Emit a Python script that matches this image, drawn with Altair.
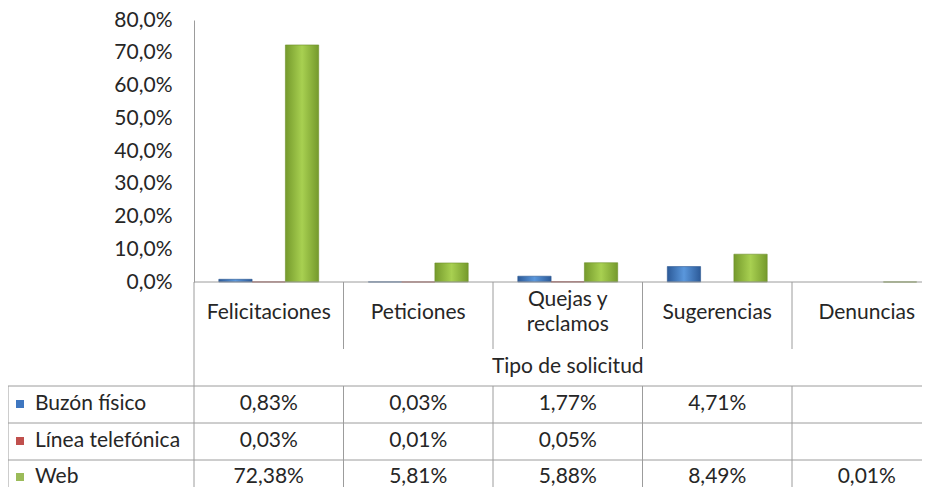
import altair as alt
import pandas as pd

# ---------------- data ----------------
categories = ["Felicitaciones", "Peticiones", "Quejas y reclamos", "Sugerencias", "Denuncias"]
category_labels = ["Felicitaciones", "Peticiones", "Quejas y\nreclamos", "Sugerencias", "Denuncias"]
series = ["Buzón físico", "Línea telefónica", "Web"]
buzon = [0.83, 0.03, 1.77, 4.71, None]
linea = [0.03, 0.01, 0.05, None, None]
web = [72.38, 5.81, 5.88, 8.49, 0.01]
y_ticks = [0, 10, 20, 30, 40, 50, 60, 70, 80]
axis_title = "Tipo de solicitud"

values_by_series = {"Buzón físico": buzon, "Línea telefónica": linea, "Web": web}

rows = []
for s in series:
    for c, v in zip(categories, values_by_series[s]):
        if v is not None:
            rows.append({"cat": c, "serie": s, "v": v, "frac": v / 100.0})
df = pd.DataFrame(rows)
cat_df = pd.DataFrame({"cat": categories, "label": category_labels})
one = pd.DataFrame({"a": [0]})

# ---------------- layout (pixels) ----------------
TOP = 5
W, H = 728, 479 - TOP
LEFT = 186
Y_TOP, Y_ZERO = 12 - TOP, 274 - TOP
FONT = "Lato"
FS = 21
TXT = "#262626"
LINE = "#9c9c9c"


def py(v):
    return v - TOP


x_scale = alt.Scale(domain=categories, range=[0, 747.5], paddingInner=0, paddingOuter=0)
xo_scale = alt.Scale(domain=series, paddingInner=0, paddingOuter=0.745)
y_scale = alt.Scale(domain=[0, 0.8], range=[Y_ZERO, Y_TOP], nice=False, zero=True)

X = alt.X("cat:N", scale=x_scale, axis=None, sort=categories)
Y = alt.Y(
    "frac:Q", scale=y_scale, title=None,
    axis=alt.Axis(
        values=[t / 100 for t in y_ticks],
        labelExpr="replace(format(datum.value*100, '.1f'), '.', ',') + '%'",
        ticks=False, grid=False, domainColor=LINE, domainWidth=1,
        labelFont=FONT, labelFontSize=FS, labelColor=TXT, labelPadding=22,
        labelBound=False, labelOverlap=False,
    ),
)

gradients = {
    "Buzón físico": ["#2c5a98", "#5a97dc", "#2c5a98"],
    "Línea telefónica": ["#9a3431", "#d4605c", "#9a3431"],
    "Web": ["#759a2c", "#a8d051", "#759a2c"],
}
strokes = {"Buzón físico": "#2a5590", "Línea telefónica": "#8c2f2c", "Web": "#6b8e28"}

layers = []

# bars
for s in series:
    g = gradients[s]
    grad = alt.Gradient(
        gradient="linear",
        stops=[alt.GradientStop(color=g[0], offset=0),
               alt.GradientStop(color=g[1], offset=0.5),
               alt.GradientStop(color=g[2], offset=1)],
        x1=0, x2=1, y1=0, y2=0,
    )
    bar = alt.Chart(df).transform_filter(alt.datum.serie == s).mark_bar(
        color=grad, stroke=strokes[s], strokeWidth=0.6
    ).encode(
        x=X,
        xOffset=alt.XOffset("serie:N", scale=xo_scale),
        y=Y,
    )
    layers.append(bar)


# lines
def hline(y, x1, x2):
    return alt.Chart(one).mark_rule(color=LINE, strokeWidth=1).encode(
        x=alt.value(x1), x2=alt.value(x2), y=alt.value(y))


def vline(x, y1, y2):
    return alt.Chart(one).mark_rule(color=LINE, strokeWidth=1).encode(
        x=alt.value(x), y=alt.value(y1), y2=alt.value(y2))


layers.append(hline(Y_ZERO, 0, W + 10))
for y in [378, 415, 452]:
    layers.append(hline(py(y), -LEFT, W + 10))
layers.append(vline(0, Y_ZERO, H))
layers.append(vline(-LEFT, py(378), H))

sep_df = pd.DataFrame({"cat": categories[1:]})
layers.append(alt.Chart(sep_df).mark_rule(color=LINE, strokeWidth=1).encode(
    x=alt.X("cat:N", scale=x_scale, axis=None, bandPosition=0),
    y=alt.value(Y_ZERO), y2=alt.value(py(341))))
layers.append(alt.Chart(sep_df).mark_rule(color=LINE, strokeWidth=1).encode(
    x=alt.X("cat:N", scale=x_scale, axis=None, bandPosition=0),
    y=alt.value(py(378)), y2=alt.value(H)))

# category labels (single-line and two-line)
layers.append(alt.Chart(cat_df).transform_filter(
    "indexof(datum.label, '\\n') < 0").mark_text(
    font=FONT, fontSize=FS, color=TXT, baseline="middle", align="center",
).encode(x=X, y=alt.value(py(305)), text="label:N"))
layers.append(alt.Chart(cat_df).transform_filter(
    "indexof(datum.label, '\\n') >= 0").mark_text(
    font=FONT, fontSize=FS, color=TXT, baseline="middle", align="center",
    lineBreak="\n", lineHeight=25,
).encode(x=X, y=alt.value(py(292)), text="label:N"))

# axis title
layers.append(alt.Chart(one).mark_text(
    font=FONT, fontSize=FS, color=TXT, baseline="middle", align="center",
).encode(x=alt.value(747.5 / 2), y=alt.value(py(359)), text=alt.value(axis_title)))

# table rows
row_y = {"Buzón físico": 396, "Línea telefónica": 433, "Web": 469}
sq_colors = {"Buzón físico": "#3f77c0", "Línea telefónica": "#c0504d", "Web": "#9bbb59"}
for s in series:
    yy = py(row_y[s])
    layers.append(alt.Chart(df).transform_filter(alt.datum.serie == s).transform_calculate(
        txt="replace(format(datum.v, '.2f'), '.', ',') + '%'"
    ).mark_text(font=FONT, fontSize=FS, color=TXT, baseline="middle", align="center").encode(
        x=X, y=alt.value(yy), text="txt:N"))
    layers.append(alt.Chart(one).mark_square(
        size=64, filled=True, color=sq_colors[s], opacity=1
    ).encode(x=alt.value(-174), y=alt.value(yy)))
    layers.append(alt.Chart(one).mark_text(
        font=FONT, fontSize=FS, color=TXT, baseline="middle", align="left"
    ).encode(x=alt.value(-159), y=alt.value(yy), text=alt.value(s)))

chart = alt.layer(*layers).properties(
    width=W, height=H,
    autosize=alt.AutoSizeParams(type="none"),
    padding={"left": LEFT, "top": TOP, "right": 0, "bottom": 0},
).configure_view(strokeWidth=0)

chart.save("out.html", embed_options={"renderer": "svg", "actions": False})
